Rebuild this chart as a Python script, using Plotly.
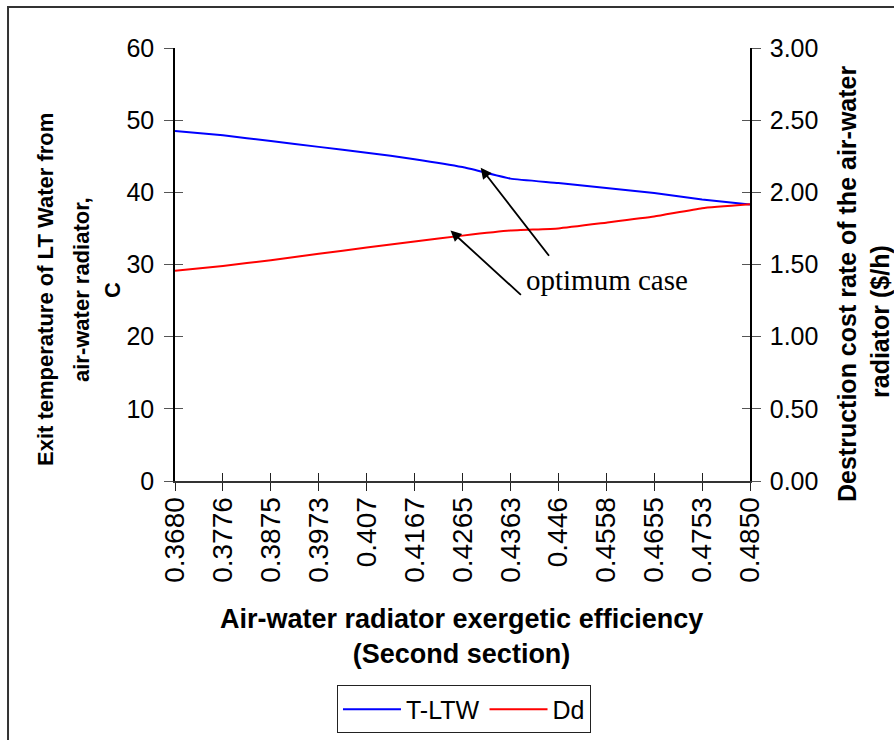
import plotly.graph_objects as go

# Radiator exergetic efficiency (second section) and the two responses
efficiency = ["0.3680", "0.3776", "0.3875", "0.3973", "0.407", "0.4167", "0.4265",
              "0.4363", "0.446", "0.4558", "0.4655", "0.4753", "0.4850"]
t_ltw = [48.5, 47.9, 47.1, 46.3, 45.5, 44.6, 43.5, 41.9, 41.3, 40.6, 39.9, 39.0, 38.3]
dd = [1.457, 1.49, 1.53, 1.575, 1.617, 1.66, 1.70, 1.735, 1.75, 1.79, 1.832, 1.89, 1.917]

left_ticks = [0, 10, 20, 30, 40, 50, 60]
right_ticks = [0, 0.5, 1.0, 1.5, 2.0, 2.5, 3.0]
right_labels = [f"{v:.2f}" for v in right_ticks]

SANS = "Liberation Sans, Arial, sans-serif"
SERIF = "Liberation Serif, Times New Roman, serif"

fig = go.Figure()
fig.add_trace(go.Scatter(x=efficiency, y=t_ltw, name="T-LTW", mode="lines",
                         line=dict(color="#0000ff", width=2, shape="spline", smoothing=0.4),
                         yaxis="y"))
fig.add_trace(go.Scatter(x=efficiency, y=dd, name="Dd", mode="lines",
                         line=dict(color="#ff0000", width=2, shape="spline", smoothing=0.4),
                         yaxis="y2"))
# helper traces so the inner halves of the tick marks are drawn
fig.add_trace(go.Scatter(x=[efficiency[0]], y=[None], xaxis="x2", yaxis="y3",
                         showlegend=False, hoverinfo="skip"))
fig.add_trace(go.Scatter(x=[efficiency[0]], y=[None], xaxis="x2", yaxis="y4",
                         showlegend=False, hoverinfo="skip"))

ytickfont = dict(family=SANS, size=25, color="black")
xtickfont = dict(family=SANS, size=28, color="black")

fig.update_layout(
    width=894, height=740,
    margin=dict(l=175, r=144, t=48, b=259, autoexpand=False),
    paper_bgcolor="white", plot_bgcolor="white",
    showlegend=True,
    legend=dict(orientation="h", x=0.2817, y=-0.472, xanchor="left", yanchor="top",
                bordercolor="#222222", borderwidth=1, bgcolor="white",
                font=dict(family=SANS, size=25, color="black"),
                itemwidth=58, tracegroupgap=0),
    xaxis=dict(type="category", categoryorder="array", categoryarray=efficiency,
               range=[0, len(efficiency) - 1], showgrid=False, zeroline=False,
               showline=True, linecolor="#333333", linewidth=2,
               ticks="outside", ticklen=8, tickcolor="#222222", tickwidth=1,
               tickangle=-90, tickfont=xtickfont, ticklabelstandoff=-5),
    xaxis2=dict(type="category", categoryorder="array", categoryarray=efficiency,
                range=[0, len(efficiency) - 1], overlaying="x", side="bottom",
                anchor="y", showgrid=False, zeroline=False, showline=False,
                ticks="inside", ticklen=8, tickcolor="#222222", tickwidth=1,
                showticklabels=False),
    yaxis=dict(range=[0, 60], tickvals=left_ticks, showgrid=False, zeroline=False,
               showline=True, linecolor="black", linewidth=1.5,
               ticks="outside", ticklen=9, tickcolor="#555555", tickwidth=1,
               tickfont=ytickfont, ticklabelstandoff=5),
    yaxis2=dict(range=[0, 3], tickvals=right_ticks, ticktext=right_labels,
                overlaying="y", side="right", anchor="x",
                showgrid=False, zeroline=False,
                showline=True, linecolor="black", linewidth=1.5,
                ticks="outside", ticklen=9, tickcolor="#555555", tickwidth=1,
                tickfont=ytickfont, ticklabelstandoff=4),
    yaxis3=dict(range=[0, 60], tickvals=left_ticks, overlaying="y", side="left",
                anchor="x", showgrid=False, zeroline=False, showline=False,
                ticks="inside", ticklen=8, tickcolor="#555555", showticklabels=False),
    yaxis4=dict(range=[0, 3], tickvals=right_ticks, overlaying="y", side="right",
                anchor="x", showgrid=False, zeroline=False, showline=False,
                ticks="inside", ticklen=8, tickcolor="#555555", showticklabels=False),
)


def px_to_paper_x(px):
    return (px - 175) / 575


def px_to_paper_y(py):
    return (481 - py) / 433


annotations = []

# left axis title, one annotation per line
for text, cx in [("Exit temperature of LT Water from", 45),
                 ("air-water radiator,", 81),
                 ("C", 112)]:
    annotations.append(dict(text=f"<b>{text}</b>", xref="paper", yref="paper",
                            x=px_to_paper_x(cx), y=px_to_paper_y(290), textangle=-90,
                            showarrow=False, font=dict(family=SANS, size=22, color="black"),
                            xanchor="center", yanchor="middle"))

# right axis title
for text, cx, cy in [("Destruction cost rate of the air-water", 847, 284),
                     ("radiator ($/h)", 880, 322)]:
    annotations.append(dict(text=f"<b>{text}</b>", xref="paper", yref="paper",
                            x=px_to_paper_x(cx), y=px_to_paper_y(cy), textangle=-90,
                            showarrow=False, font=dict(family=SANS, size=25, color="black"),
                            xanchor="center", yanchor="middle"))

# x axis title
annotations.append(dict(text="<b>Air-water radiator exergetic efficiency<br>(Second section)</b>",
                        xref="paper", yref="paper", x=px_to_paper_x(461),
                        y=px_to_paper_y(636), showarrow=False,
                        font=dict(family=SANS, size=27, color="black"),
                        xanchor="center", yanchor="middle"))

# callout text and its two arrows
annotations.append(dict(text="optimum case", xref="paper", yref="paper",
                        x=px_to_paper_x(607), y=px_to_paper_y(280), showarrow=False,
                        font=dict(family=SERIF, size=29, color="black"),
                        xanchor="center", yanchor="middle"))
annotations.append(dict(x=6.38, y=43.4, xref="x", yref="y", ax=7.83, ay=31.0,
                        axref="x", ayref="y", text="", showarrow=True, arrowhead=2,
                        arrowsize=1.2, arrowwidth=1.8, arrowcolor="black"))
annotations.append(dict(x=5.75, y=34.7, xref="x", yref="y", ax=7.25, ay=25.6,
                        axref="x", ayref="y", text="", showarrow=True, arrowhead=2,
                        arrowsize=1.2, arrowwidth=1.8, arrowcolor="black"))

fig.update_layout(annotations=annotations)

# outer frame of the chart
fig.add_shape(type="rect", xref="paper", yref="paper",
              x0=-0.2904, x1=1.27, y0=-0.62, y1=1.0947,
              line=dict(color="#333333", width=2), fillcolor="rgba(0,0,0,0)", layer="below")

fig.write_html("out.html")
